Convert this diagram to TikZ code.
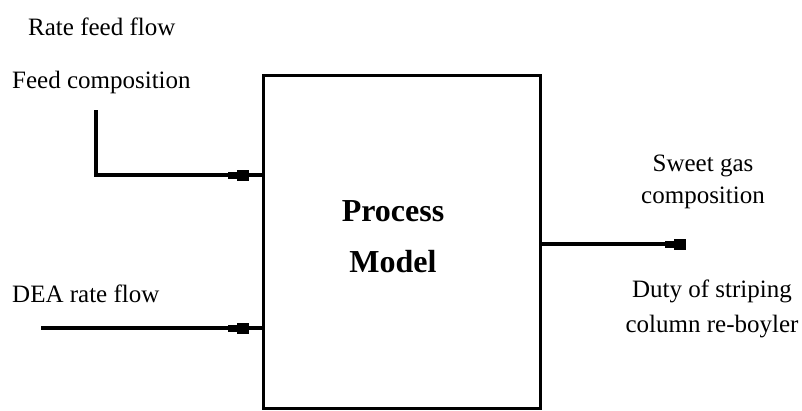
\documentclass[tikz,border=0pt]{standalone}
\usepackage{fontspec}
\setmainfont{Liberation Serif}
\usetikzlibrary{arrows.meta,decorations.markings}
\tikzset{
  flowtip/.tip={Rectangle[length=9pt,width=7pt,sep=0pt,line width=0pt] Rectangle[length=12pt,width=11pt,line width=0pt]},
}
\begin{document}
\begin{tikzpicture}[x=1pt,y=-1pt,
  lbl/.style={font=\fontsize{25}{32}\selectfont, inner sep=0pt},
  lbltwo/.style={font=\fontsize{25}{35}\selectfont, inner sep=0pt, align=center},
  title/.style={font=\fontsize{32}{51}\selectfont\bfseries, inner sep=0pt, align=center},
  block/.style={draw, line width=3.4pt, minimum width=276.8pt, minimum height=333.4pt, inner sep=0pt},
  flow/.style={line width=3.2pt},
  inmark/.style={postaction={decorate}, decoration={markings, mark=at position -12.5pt with {\arrow{flowtip}}}},
]
\useasboundingbox (0,0) rectangle (802,410);

\node[block] (box) at (401.9,242) {};
\node[title] (pm) at (393,236.5) {Process\\Model};

\node[lbl, anchor=base west] (rate) at (28,35) {Rate feed flow};
\node[lbl, anchor=base west] (feed) at (12,88) {Feed composition};
\node[lbl, anchor=base west] (dea) at (12,302.5) {DEA rate flow};
\node[lbl, align=center] (sweet) at (703,182) {Sweet gas\\composition};
\node[lbltwo] (duty) at (712,308.5) {Duty of striping\\column re-boyler};

\coordinate (f0) at (96,110);
\coordinate (fy) at (0,175);
\coordinate (d0) at (41,328);
\coordinate (o1) at (686,244);

\draw[flow, inmark] (f0) |- (box.west |- fy);
\draw[flow, inmark] (d0) -- (box.west |- d0);
\draw[flow, -flowtip] (box.east |- o1) -- (o1);
\end{tikzpicture}
\end{document}
